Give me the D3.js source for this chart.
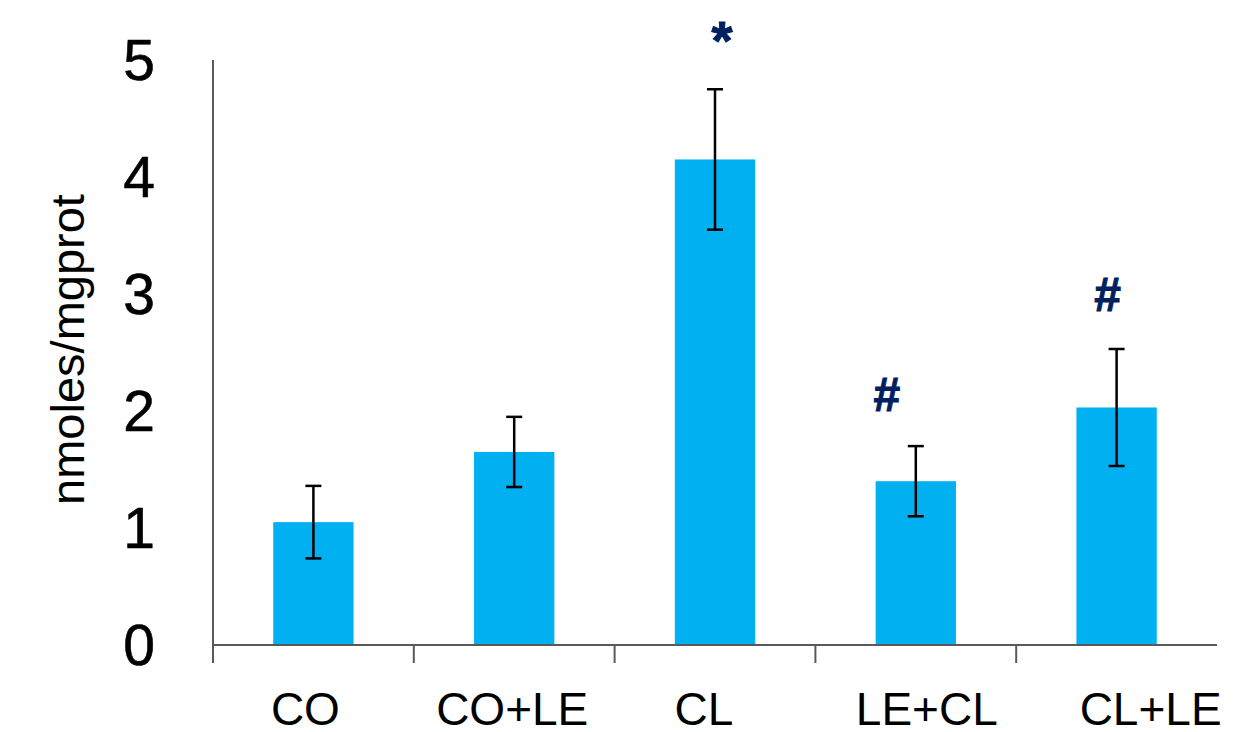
<!DOCTYPE html>
<html lang="en">
<head>
    <meta charset="UTF-8">
    <title>nmoles/mgprot by group</title>
    <script src="https://d3js.org/d3.v7.min.js"></script>
    <style>
        body { margin: 0; background: #fff; }
        text { font-family: Arial, "Liberation Sans", sans-serif; fill: #000; }
    </style>
</head>
<body>
<div id="chart"></div>
<script>
    // Data
    const groups = ['CO', 'CO+LE', 'CL', 'LE+CL', 'CL+LE'];
    const means = [1.05, 1.65, 4.15, 1.40, 2.03];
    const errors = [0.31, 0.30, 0.60, 0.30, 0.50];
    const marks = ['', '', '*', '#', '#'];
    const markLevels = [null, null, 5.24, 2.15, 3.0];
    const yTicks = [0, 1, 2, 3, 4, 5];

    // Layout (pixel tweaks to match the original figure)
    const W = 1257, H = 732;
    const plot = { left: 213, right: 1217, top: 60, bottom: 645 };
    const labelShift = [-8, -2, -11, 11, 34];
    const markShift = [0, 0, 7, -29, -9];

    const svg = d3.select('#chart').append('svg')
        .attr('width', W)
        .attr('height', H);

    const x = d3.scaleBand()
        .domain(groups)
        .range([plot.left, plot.right])
        .paddingInner(0.6)
        .paddingOuter(0.3);

    const y = d3.scaleLinear()
        .domain([0, 5])
        .range([plot.bottom, plot.top]);

    const step = x.step();

    // Bars
    svg.selectAll('.bar')
        .data(groups)
        .enter().append('rect')
        .attr('class', 'bar')
        .attr('x', d => x(d))
        .attr('width', x.bandwidth())
        .attr('y', (d, i) => y(means[i]))
        .attr('height', (d, i) => y(0) - y(means[i]))
        .attr('fill', '#00B0F0');

    // Error bars
    const eb = svg.selectAll('.err')
        .data(groups)
        .enter().append('g')
        .attr('class', 'err')
        .attr('stroke', '#000')
        .attr('stroke-width', 2.5);

    eb.append('line')
        .attr('x1', d => x(d) + x.bandwidth() / 2)
        .attr('x2', d => x(d) + x.bandwidth() / 2)
        .attr('y1', (d, i) => y(means[i] + errors[i]))
        .attr('y2', (d, i) => y(means[i] - errors[i]));

    [1, -1].forEach(sign => {
        eb.append('line')
            .attr('x1', d => x(d) + x.bandwidth() / 2 - 8)
            .attr('x2', d => x(d) + x.bandwidth() / 2 + 8)
            .attr('y1', (d, i) => y(means[i] + sign * errors[i]))
            .attr('y2', (d, i) => y(means[i] + sign * errors[i]));
    });

    // Axis lines
    const axisColor = '#595959';
    svg.append('line')
        .attr('x1', plot.left).attr('x2', plot.left)
        .attr('y1', y(5)).attr('y2', y(0) + 18)
        .attr('stroke', axisColor).attr('stroke-width', 2);

    svg.append('line')
        .attr('x1', plot.left).attr('x2', plot.right)
        .attr('y1', y(0)).attr('y2', y(0))
        .attr('stroke', axisColor).attr('stroke-width', 2);

    // Category boundary ticks
    svg.selectAll('.sep')
        .data(groups.slice(1))
        .enter().append('line')
        .attr('class', 'sep')
        .attr('x1', d => x(d) - step * 0.3)
        .attr('x2', d => x(d) - step * 0.3)
        .attr('y1', y(0))
        .attr('y2', y(0) + 18)
        .attr('stroke', axisColor)
        .attr('stroke-width', 2);

    // Y axis labels
    const yAxis = svg.append('g')
        .attr('transform', `translate(${plot.left},0)`)
        .call(d3.axisLeft(y).tickValues(yTicks).tickSize(0).tickPadding(58).tickFormat(d3.format('d')));
    yAxis.select('.domain').remove();
    yAxis.selectAll('text')
        .attr('dy', '0.34em')
        .style('font-size', '57px')
        .style('font-family', 'Arial, "Liberation Sans", sans-serif')
        .attr('fill', '#000')
        .attr('stroke', '#000')
        .attr('stroke-width', 0.6);

    // X axis labels
    const xAxis = svg.append('g')
        .attr('transform', `translate(0,${y(0)})`)
        .call(d3.axisBottom(x).tickSize(0).tickPadding(0));
    xAxis.select('.domain').remove();
    xAxis.selectAll('text')
        .attr('y', 80)
        .attr('dy', 0)
        .attr('dx', (d, i) => labelShift[i])
        .style('font-size', '46px')
        .style('font-family', 'Arial, "Liberation Sans", sans-serif')
        .attr('fill', '#000');

    // Y title
    svg.append('text')
        .attr('transform', `translate(84,${(y(0) + y(5)) / 2 - 3}) rotate(-90)`)
        .attr('text-anchor', 'middle')
        .style('font-size', '47px')
        .text('nmoles/mgprot');

    // Significance marks
    svg.selectAll('.sig')
        .data(groups)
        .enter().append('text')
        .attr('class', 'sig')
        .filter((d, i) => marks[i] !== '')
        .attr('x', d => x(d) + x.bandwidth() / 2 + markShift[groups.indexOf(d)])
        .attr('y', d => y(markLevels[groups.indexOf(d)]))
        .attr('dy', d => marks[groups.indexOf(d)] === '*' ? '0.5em' : '0.36em')
        .attr('text-anchor', 'middle')
        .style('font-weight', 'bold')
        .style('font-size', d => marks[groups.indexOf(d)] === '*' ? '54px' : '48px')
        .style('fill', '#002060')
        .attr('stroke', '#002060')
        .attr('stroke-width', 1)
        .text(d => marks[groups.indexOf(d)]);
</script>
</body>
</html>
